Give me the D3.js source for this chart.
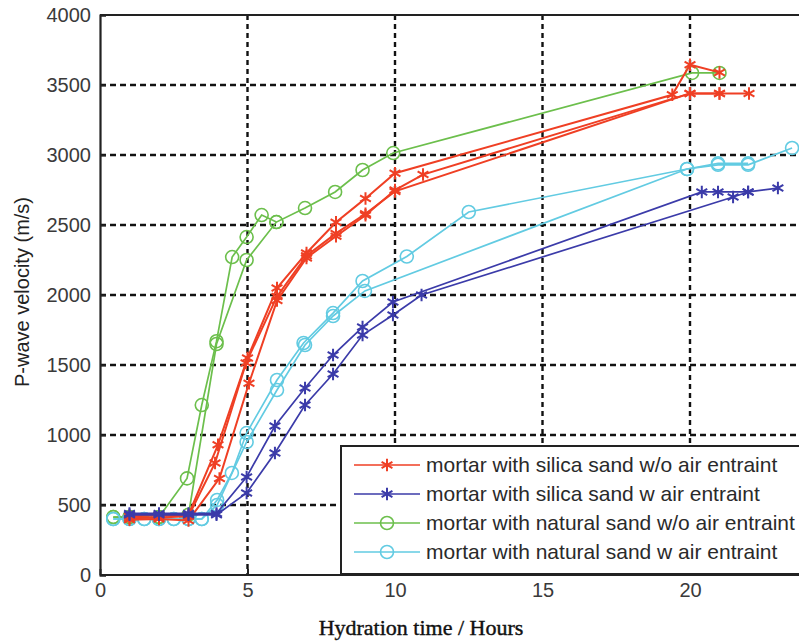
<!DOCTYPE html>
<html><head><meta charset="utf-8">
<script src="https://cdn.jsdelivr.net/npm/d3@7"></script>
<style>html,body{margin:0;padding:0;background:#fff;overflow:hidden}</style>
</head><body>
<svg id="chart" width="799" height="641"></svg>
<script>
// ---------- data ----------
const legendLabels = [
  "mortar with silica sand w/o air entraint",
  "mortar with silica sand w air entraint",
  "mortar with natural sand w/o air entraint",
  "mortar with natural sand w air entraint"
];
const xTicks = [0, 5, 10, 15, 20];
const yTicks = [0, 500, 1000, 1500, 2000, 2500, 3000, 3500, 4000];

// silica sand w/o air entraint (3 runs)
const silicaNoAir1 = [[1,420],[2,425],[3,430],[4,930],[5,1550],[6,2050],[7,2300],[8,2520],[9,2690],[10,2870],[19.4,3430],[20,3645],[21,3590]];
const silicaNoAir2 = [[1,405],[2,410],[3,420],[3.9,800],[4.95,1515],[6,1990],[7,2280],[8,2440],[9,2580],[10,2740],[20,3440],[21,3440]];
const silicaNoAir3 = [[1,395],[2,400],[3,390],[4.05,690],[5.05,1370],[6,1960],[7,2265],[8,2420],[9,2570],[10,2750],[10.95,2860],[20,3440],[21,3440],[22,3440]];
// silica sand w air entraint (2 runs)
const silicaAir1 = [[1,440],[2,440],[3,440],[3.95,440],[4.97,700],[5.93,1064],[6.95,1336],[7.9,1571],[8.9,1771],[9.93,1950],[20.4,2736],[20.95,2736],[21.97,2736],[22.98,2764]];
const silicaAir2 = [[1,430],[2,430],[3,430],[3.95,430],[4.97,586],[5.93,871],[6.95,1214],[7.9,1436],[8.9,1714],[9.93,1857],[10.9,2000],[21.46,2700],[21.97,2736]];
// natural sand w/o air entraint (2 runs)
const naturalNoAir1 = [[0.45,414],[1,414],[2,414],[2.95,690],[3.45,1214],[3.95,1670],[4.48,2271],[4.97,2414],[5.48,2571],[5.98,2521]];
const naturalNoAir2 = [[0.45,414],[1,414],[2,414],[3,430],[3.95,1650],[4.97,2250],[5.98,2521],[6.95,2621],[7.97,2736],[8.9,2893],[9.94,3014],[20.07,3586],[21,3586]];
// natural sand w air entraint (2 runs)
const naturalAir1 = [[0.45,400],[1,400],[1.5,400],[2,400],[2.5,400],[3,400],[3.45,400],[3.97,536],[4.47,729],[4.97,1014],[6,1393],[6.9,1657],[7.9,1871],[8.9,2100],[10.4,2275],[12.5,2593],[19.9,2900],[20.95,2930],[21.97,2930],[23.46,3050]];
const naturalAir2 = [[0.45,400],[1,400],[1.5,400],[2,400],[2.5,400],[3,400],[3.45,400],[3.97,500],[4.97,950],[6,1321],[6.95,1643],[7.9,1850],[8.98,2029],[19.9,2900],[20.95,2940],[21.97,2940]];

// ---------- layout / style ----------
const colors = ["#ef3f24", "#3b3ba9", "#6cbf4c", "#62cbe2"];
const lineW = [2.0, 1.7, 1.7, 1.7];
const markers = ["star", "star", "circle", "circle"];
const runs = [
  {g:2, d:naturalNoAir1}, {g:2, d:naturalNoAir2},
  {g:3, d:naturalAir1}, {g:3, d:naturalAir2},
  {g:0, d:silicaNoAir1}, {g:0, d:silicaNoAir2}, {g:0, d:silicaNoAir3},
  {g:1, d:silicaAir1}, {g:1, d:silicaAir2}
];

const svg = d3.select("#chart");
svg.append("rect").attr("width",799).attr("height",641).attr("fill","#fff");

const pL = 100, pT = 15, pB = 575;
const x = d3.scaleLinear().domain([0, 25]).range([pL, pL + 25 * 29.5]);
const y = d3.scaleLinear().domain([0, 4000]).range([pB, pT]);

// grid
const grid = svg.append("g");
grid.selectAll("line.gx").data(xTicks.filter(t => t > 0)).enter().append("line")
  .attr("x1", d => x(d)).attr("x2", d => x(d)).attr("y1", pT).attr("y2", pB)
  .attr("stroke", "#111").attr("stroke-width", 2.4).attr("stroke-dasharray", "5,4");
grid.selectAll("line.gy").data(yTicks.filter(t => t > 0 && t < 4000)).enter().append("line")
  .attr("x1", pL).attr("x2", 820).attr("y1", d => y(d)).attr("y2", d => y(d))
  .attr("stroke", "#111").attr("stroke-width", 2.4).attr("stroke-dasharray", "6,4");

// axes
const xAxis = d3.axisBottom(x).tickValues(xTicks).tickSize(-6).tickPadding(8).tickFormat(d3.format("d"));
const yAxis = d3.axisLeft(y).tickValues(yTicks).tickSize(-6).tickPadding(9).tickFormat(d3.format("d"));
const gx = svg.append("g").attr("transform", `translate(0,${pB})`).call(xAxis);
const gy = svg.append("g").attr("transform", `translate(${pL},0)`).call(yAxis);
[gx, gy].forEach(g => {
  g.select(".domain").attr("stroke", "#222").attr("stroke-width", 2.2);
  g.selectAll(".tick line").attr("stroke", "#222").attr("stroke-width", 2);
  g.selectAll("text").attr("font-family", "Liberation Sans, Arial, sans-serif")
    .attr("font-size", 20).attr("fill", "#3a3a3a");
});
gx.select(".domain").attr("d", `M${pL},0H820`);
// top border
svg.append("line").attr("x1", pL).attr("x2", 820).attr("y1", pT).attr("y2", pT)
  .attr("stroke", "#222").attr("stroke-width", 2.2);

// data
const line = d3.line().x(d => x(d[0])).y(d => y(d[1]));
const star = d3.symbol(d3.symbolAsterisk, 110);
function drawMarker(sel, g) {
  if (markers[g] === "circle") {
    sel.append("circle").attr("r", 6.5).attr("fill", "none")
      .attr("stroke", colors[g]).attr("stroke-width", 1.6);
  } else {
    sel.append("path").attr("d", star()).attr("fill", "none")
      .attr("stroke", colors[g]).attr("stroke-width", 2.0);
  }
}
const dataG = svg.append("g");
runs.forEach(r => {
  const gg = dataG.append("g");
  gg.append("path").attr("d", line(r.d)).attr("fill", "none")
    .attr("stroke", colors[r.g]).attr("stroke-width", lineW[r.g]);
  r.d.forEach(p => {
    const m = gg.append("g").attr("transform", `translate(${x(p[0])},${y(p[1])})`);
    drawMarker(m, r.g);
  });
});

// legend
const lg = svg.append("g");
lg.append("rect").attr("x", 341).attr("y", 446).attr("width", 600).attr("height", 128)
  .attr("fill", "#fff").attr("stroke", "#222").attr("stroke-width", 2);
const rowY = [465, 494, 523, 552];
legendLabels.forEach((lab, i) => {
  const yy = rowY[i];
  lg.append("line").attr("x1", 354).attr("x2", 420).attr("y1", yy).attr("y2", yy)
    .attr("stroke", colors[i]).attr("stroke-width", 1.7);
  const m = lg.append("g").attr("transform", `translate(387,${yy})`);
  drawMarker(m, i);
  lg.append("text").attr("x", 426).attr("y", yy + 7).text(lab)
    .attr("font-family", "Liberation Sans, Arial, sans-serif").attr("font-size", 21)
    .attr("fill", "#2a2a2a");
});

// axis labels
svg.append("text").attr("transform", "translate(29,292) rotate(-90)")
  .attr("text-anchor", "middle").attr("font-family", "Liberation Sans, Arial, sans-serif")
  .attr("font-size", 20).attr("fill", "#222").text("P-wave velocity (m/s)");
svg.append("text").attr("x", 421).attr("y", 635).attr("text-anchor", "middle")
  .attr("font-family", "Liberation Serif, Times New Roman, serif")
  .attr("font-size", 22).attr("fill", "#111").attr("stroke", "#111").attr("stroke-width", 0.4)
  .text("Hydration time / Hours");
</script>
</body></html>
